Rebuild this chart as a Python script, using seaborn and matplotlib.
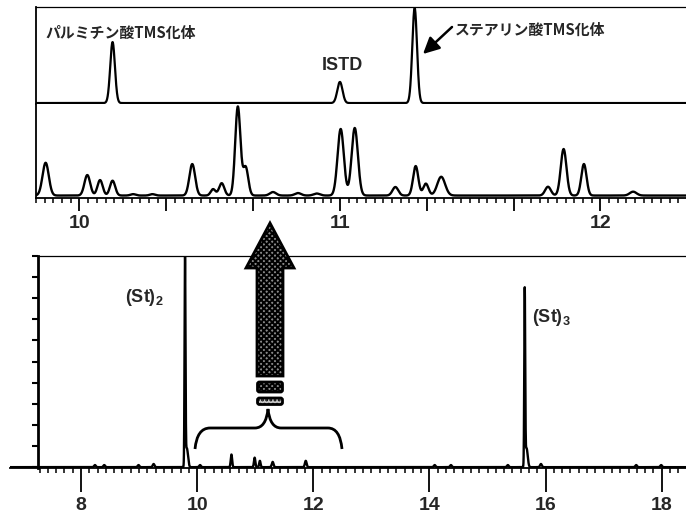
import numpy as np
import matplotlib
matplotlib.use("Agg")
import matplotlib.pyplot as plt
import seaborn as sns
from matplotlib.ticker import FixedLocator, FuncFormatter, MultipleLocator, NullFormatter
from matplotlib.patches import Polygon, FancyBboxPatch, PathPatch
from matplotlib.path import Path

sns.set_theme(style="white")
plt.rcParams["font.family"] = ["Liberation Sans", "Noto Sans CJK JP", "DejaVu Sans"]
plt.rcParams["font.weight"] = "bold"
plt.rcParams["mathtext.fontset"] = "custom"
plt.rcParams["mathtext.bf"] = "Liberation Sans:bold"
plt.rcParams["mathtext.rm"] = "Liberation Sans:bold"
plt.rcParams["hatch.linewidth"] = 1.4
plt.rcParams["axes.edgecolor"] = "black"

# ---- peak tables: retention time (min), relative intensity (%), peak sigma (min)
# upper trace: fatty-acid TMS derivatives and internal standard
top_rt = [10.127, 11.000, 11.287]
top_height = [63.5, 22.0, 99.0]
top_sigma = [0.009, 0.010, 0.009]

# middle trace: expanded window of the sample chromatogram
mid_rt = [9.870, 10.030, 10.079, 10.127, 10.206, 10.280, 10.433, 10.513, 10.546,
          10.608, 10.638, 10.743, 10.839, 10.911, 11.003, 11.057, 11.213, 11.291,
          11.330, 11.389, 11.799, 11.859, 11.937, 12.126]
mid_height = [35.8, 22.4, 16.9, 16.2, 1.5, 1.5, 34.4, 7.0, 13.5,
              97.0, 31.0, 3.8, 2.7, 2.2, 72.7, 73.8, 9.3, 32.2,
              13.0, 20.5, 9.6, 50.8, 34.4, 4.2]
mid_sigma = [0.012, 0.011, 0.010, 0.010, 0.010, 0.010, 0.011, 0.009, 0.010,
             0.010, 0.010, 0.012, 0.012, 0.012, 0.012, 0.012, 0.011, 0.010,
             0.010, 0.015, 0.011, 0.011, 0.010, 0.013]

# lower trace: full run, stearin oligomers (St)2 and (St)3
low_rt = [9.791, 9.822, 15.641, 15.672,
          8.24, 8.40, 8.99, 9.25, 10.05, 10.59, 10.99, 11.08, 11.30, 11.87,
          14.09, 14.37, 15.35, 15.92, 17.56, 17.99]
low_height = [100.0, 9.0, 82.5, 9.0,
              1.0, 1.0, 1.0, 1.5, 1.0, 6.0, 4.5, 3.0, 2.5, 3.0,
              1.0, 1.0, 1.0, 1.5, 1.0, 1.0]
low_sigma = [0.008, 0.02, 0.008, 0.02,
             0.015, 0.015, 0.015, 0.015, 0.015, 0.012, 0.012, 0.012, 0.015, 0.015,
             0.015, 0.015, 0.015, 0.015, 0.015, 0.015]

mid_ticks_major = [10, 11, 12]
low_ticks_major = [8, 10, 12, 14, 16, 18]

label_palm = "パルミチン酸TMS化体"
label_stea = "ステアリン酸TMS化体"
label_istd = "ISTD"
label_st2 = r"$\mathbf{(St)_2}$"
label_st3 = r"$\mathbf{(St)_3}$"

# axis windows (min)
mid_xlim = (9.833, 12.329)
low_xlim = (6.777, 18.418)
low_yaxis_at = 7.254


def chromatogram(t, rts, heights, sigmas):
    y = np.zeros_like(t)
    for r, h, s in zip(rts, heights, sigmas):
        y += h * np.exp(-0.5 * ((t - r) / s) ** 2)
    return y


W, H = 686, 518
fig = plt.figure(figsize=(W / 100, H / 100), dpi=100)


def px_axes(x0, y0, x1, y1):
    return fig.add_axes([x0 / W, 1 - y1 / H, (x1 - x0) / W, (y1 - y0) / H])


ax_top = px_axes(36, 7, 686, 104)
ax_mid = px_axes(36, 104, 686, 198)
ax_low = px_axes(10, 256, 686, 468)

# ---- upper trace
t_top = np.linspace(mid_xlim[0], mid_xlim[1], 5000)
sns.lineplot(x=t_top, y=chromatogram(t_top, top_rt, top_height, top_sigma),
             ax=ax_top, color="black", linewidth=1.6, errorbar=None)
ax_top.set_xlim(mid_xlim)
ax_top.set_ylim(-1, 100)
for s in ["right", "bottom"]:
    ax_top.spines[s].set_visible(False)
ax_top.spines["top"].set_linewidth(0.9)
ax_top.spines["left"].set_linewidth(1.3)
ax_top.set_xticks([])
ax_top.set_yticks([])
ax_top.set_xlabel("")
ax_top.set_ylabel("")

# ---- middle (expanded) trace
t_mid = np.linspace(mid_xlim[0], mid_xlim[1], 6000)
sns.lineplot(x=t_mid, y=chromatogram(t_mid, mid_rt, mid_height, mid_sigma),
             ax=ax_mid, color="black", linewidth=1.7, errorbar=None)
ax_mid.set_xlim(mid_xlim)
ax_mid.set_ylim(-2.7, 100)
for s in ["right", "top"]:
    ax_mid.spines[s].set_visible(False)
ax_mid.spines["left"].set_linewidth(1.3)
ax_mid.spines["bottom"].set_linewidth(1.3)
ax_mid.set_yticks([])
major_mid = np.arange(mid_ticks_major[0] - 1, mid_ticks_major[-1] + 1.01, 1 / 3)
ax_mid.xaxis.set_major_locator(FixedLocator(major_mid))
ax_mid.xaxis.set_major_formatter(FuncFormatter(
    lambda v, p: f"{int(round(v))}" if abs(v - round(v)) < 1e-6 and round(v) in mid_ticks_major else ""))
ax_mid.xaxis.set_minor_locator(MultipleLocator(1 / 30))
ax_mid.tick_params(axis="x", which="major", direction="out", length=9.5, width=1.3,
                   pad=3, labelsize=14, bottom=True, color="black")
ax_mid.tick_params(axis="x", which="minor", direction="out", length=3.6, width=1.1,
                   bottom=True, color="black")
ax_mid.set_xlabel("")
ax_mid.set_ylabel("")

# ---- lower (full run) trace
t_low = np.arange(low_xlim[0], low_xlim[1], 0.001)
sns.lineplot(x=t_low, y=chromatogram(t_low, low_rt, low_height, low_sigma),
             ax=ax_low, color="black", linewidth=1.7, errorbar=None)
ax_low.set_xlim(low_xlim)
ax_low.set_ylim(-0.4, 100)
for s in ["right", "top"]:
    ax_low.spines[s].set_visible(False)
ax_low.spines["left"].set_position(("data", low_yaxis_at))
ax_low.spines["left"].set_linewidth(2.0)
ax_low.spines["bottom"].set_linewidth(1.3)
ax_low.hlines(100, low_yaxis_at, low_xlim[1], color="black", linewidth=0.9, clip_on=False)
ax_low.yaxis.set_major_locator(MultipleLocator(10))
ax_low.yaxis.set_major_formatter(NullFormatter())
ax_low.tick_params(axis="y", which="major", direction="out", length=4.5, width=1.5,
                   left=True, color="black")
ax_low.xaxis.set_major_locator(FixedLocator(low_ticks_major))
ax_low.xaxis.set_major_formatter(FuncFormatter(lambda v, p: f"{int(v)}"))
first_minor = np.ceil(low_yaxis_at * 7) / 7
ax_low.xaxis.set_minor_locator(FixedLocator(np.arange(first_minor, low_xlim[1], 1 / 7)))
ax_low.tick_params(axis="x", which="major", direction="out", length=17, width=1.3,
                   pad=4, labelsize=14, bottom=True, color="black")
ax_low.tick_params(axis="x", which="minor", direction="out", length=3.6, width=1.1,
                   bottom=True, color="black")
ax_low.set_xlabel("")
ax_low.set_ylabel("")

# ---- annotation layer in pixel units
ov = fig.add_axes([0, 0, 1, 1], zorder=10)
ov.set_xlim(0, W)
ov.set_ylim(H, 0)
ov.axis("off")
ov.patch.set_alpha(0)

ov.text(45, 33, label_palm, fontsize=10.7, fontweight="bold",
        family=["Noto Sans CJK JP", "DejaVu Sans"], ha="left", va="center")
ov.text(455, 30, label_stea, fontsize=10.7, fontweight="bold",
        family=["Noto Sans CJK JP", "DejaVu Sans"], ha="left", va="center")
ov.text(322, 66, label_istd, fontsize=13, fontweight="bold", ha="left", va="center")
ov.text(125, 298, label_st2, fontsize=13, ha="left", va="center")
ov.text(532, 318, label_st3, fontsize=13, ha="left", va="center")

ov.annotate("", xy=(423, 54), xytext=(452, 27),
            arrowprops=dict(arrowstyle="-|>,head_length=0.7,head_width=0.35",
                            lw=1.8, color="black", shrinkA=0, shrinkB=0,
                            mutation_scale=14))

# big hatched arrow pointing from the bracketed window to the expansion
arrow_pts = [(270, 223), (294, 268), (283, 268), (283, 376), (257, 376), (257, 268), (246, 268)]
ov.add_patch(Polygon(arrow_pts, closed=True, facecolor="#8a8a8a", edgecolor="black",
                     hatch="xxxxxx", linewidth=2.0, joinstyle="miter"))
ov.add_patch(FancyBboxPatch((257.5, 382), 25, 10, boxstyle="round,pad=0,rounding_size=2",
                            facecolor="#8a8a8a", edgecolor="black", hatch="xxxxxx", linewidth=2.0))
ov.add_patch(FancyBboxPatch((257.5, 398), 25, 6.5, boxstyle="round,pad=0,rounding_size=2",
                            facecolor="#c8c8c8", edgecolor="black", hatch="....", linewidth=2.0))

brace = Path(
    [(195, 449), (197, 428), (210, 428), (255, 428), (266, 428), (268, 409),
     (270, 428), (281, 428), (328, 428), (340, 428), (342, 449)],
    [Path.MOVETO, Path.CURVE3, Path.CURVE3, Path.LINETO, Path.CURVE3, Path.CURVE3,
     Path.CURVE3, Path.CURVE3, Path.LINETO, Path.CURVE3, Path.CURVE3])
ov.add_patch(PathPatch(brace, facecolor="none", edgecolor="black", linewidth=2.0))

fig.savefig("out.png", dpi=100)
